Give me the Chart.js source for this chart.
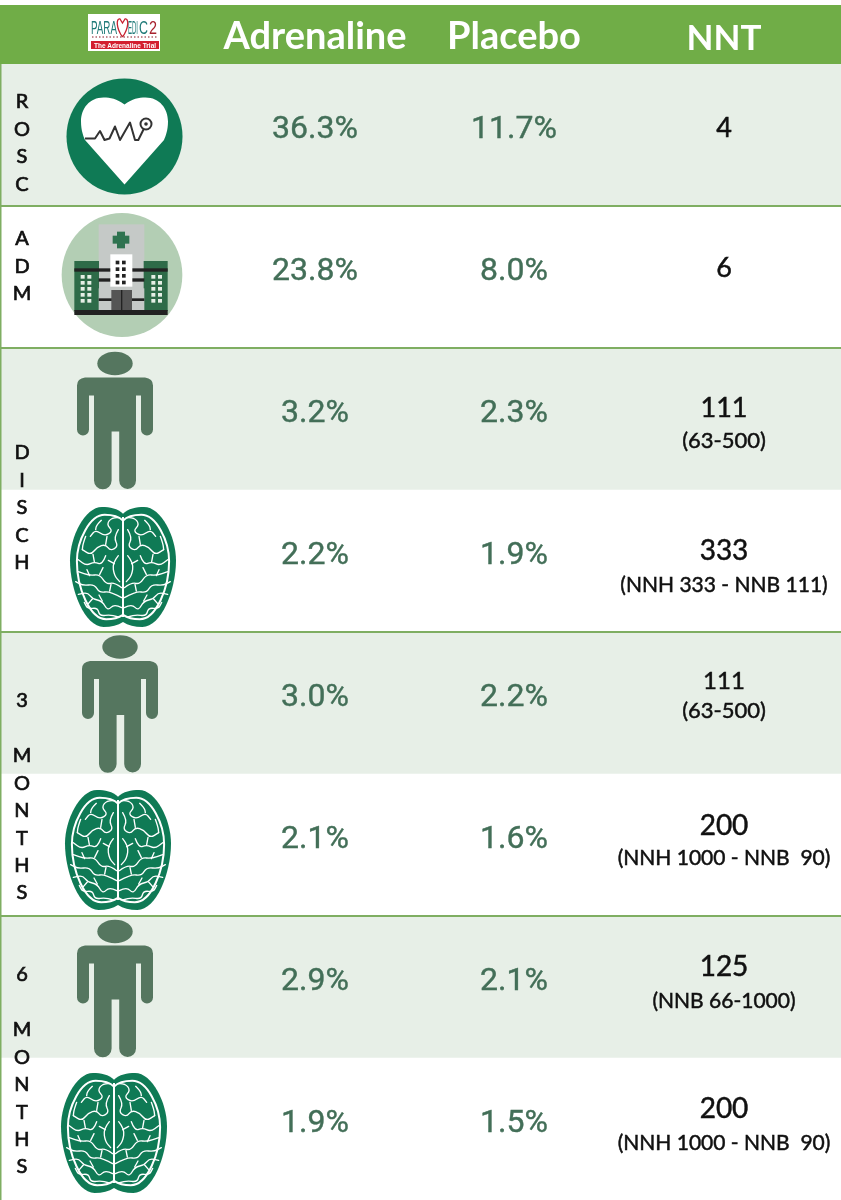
<!doctype html>
<html>
<head>
<title>PARAMEDIC2 - The Adrenaline Trial</title>
<script src="https://cdnjs.cloudflare.com/ajax/libs/Chart.js/4.4.1/chart.umd.min.js"></script>
<style>
html, body { margin: 0; padding: 0; background: #fff; }
canvas { display: block; }
</style>
</head>
<body>
<canvas id="chart" width="841" height="1200"></canvas>
<script>
// table content
var rows = ['ROSC', 'ADM', 'DISCH alive', 'DISCH neuro', '3M alive', '3M neuro', '6M alive', '6M neuro'];
var columns = ['Adrenaline', 'Placebo', 'NNT'];
var adrenaline = [36.3, 23.8, 3.2, 2.2, 3.0, 2.1, 2.9, 1.9];
var placebo = [11.7, 8.0, 2.3, 1.9, 2.2, 1.6, 2.1, 1.5];
var nnt = ['4', '6', '111', '333', '111', '200', '125', '200'];
var nntRange = ['', '', '(63-500)', '(NNH 333 - NNB 111)', '(63-500)', '(NNH 1000 - NNB  90)', '(NNB 66-1000)', '(NNH 1000 - NNB  90)'];
var sideLabels = ['ROSC', 'ADM', 'DISCH', '3', 'MONTHS', '6', 'MONTHS'];

// layout
var xMax = 841;
var columnCentres = [315, 514, 724];
var sideTops = [102, 239, 453, 701, 756, 975, 1030];
var iconKinds = ['heart', 'hospital', 'person', 'brain', 'person', 'brain', 'person', 'brain'];
var iconX = [124.5, 122, 115, 123, 120, 118, 115, 114];
var iconDy = [1.5, -2, 0, 6, -0.5, 5, 0, 4];
var lineAfter = [0, 1, 3, 5];
var nntDy = [-7, -9, -11, -10, -22, -19, -20, -20];
var rangeDy = [0, 0, 22, 24, 8, 13, 14, 14];
var nntSize = [27, 27, 27, 28, 24, 28, 28, 28];
var rangeSize = [0, 0, 22, 21, 22, 21, 21, 21];

var GREEN = '#70ad47', TINT = '#e7efe7', LINE = '#7fae62', VALUE = '#436f58',
    PERSON = '#55765f', BRAIN = '#0f7a55';

// text with a hairline stroke, the installed fonts are lighter than the picture
function heavyText(ctx, s, x, y, w) {
  ctx.fillText(s, x, y);
  ctx.lineWidth = w;
  ctx.strokeStyle = ctx.fillStyle;
  ctx.strokeText(s, x, y);
}

function drawPerson(ctx, cx, cy) {
  ctx.save();
  ctx.translate(cx, cy - 55.5);
  ctx.fillStyle = PERSON;
  ctx.beginPath();
  ctx.ellipse(0, 0, 17.7, 11.7, 0, 0, Math.PI * 2);
  ctx.fill();
  ctx.beginPath();
  ctx.moveTo(-30, 14);
  ctx.quadraticCurveTo(-38, 15, -38, 22);
  ctx.lineTo(-38, 66);
  ctx.arc(-32, 66, 6, Math.PI, 0, true);
  ctx.lineTo(-26, 32);
  ctx.lineTo(-21, 32);
  ctx.lineTo(-21, 117);
  ctx.arc(-12.2, 117, 8.8, Math.PI, 0, true);
  ctx.lineTo(-3.4, 68);
  ctx.lineTo(4.2, 68);
  ctx.lineTo(4.2, 117);
  ctx.arc(12.6, 117, 8.4, Math.PI, 0, true);
  ctx.lineTo(21, 32);
  ctx.lineTo(26, 32);
  ctx.lineTo(26, 66);
  ctx.arc(32, 66, 6, Math.PI, 0, true);
  ctx.lineTo(38, 22);
  ctx.quadraticCurveTo(38, 15, 30, 14);
  ctx.closePath();
  ctx.fill();
  ctx.restore();
}

var brainFolds = [
  [-12,-148,-32,-150,-50,-128,-30,-108,-55,-92,-82,-112,-98,-92],
  [-65,-140,-80,-125,-82,-112],
  [-14,-112,-28,-88,-14,-62,-38,-48,-52,-68,-78,-60,-96,-36,-122,-52],
  [-52,-68,-48,-92],
  [-112,-92,-120,-70,-122,-52],
  [-14,-34,-32,-12,-26,26,-10,44],
  [-26,-10,-44,-20],
  [-52,-34,-62,-6,-86,-16,-110,-4,-134,-22],
  [-86,-16,-90,-38],
  [-4,62,-26,46,-50,52,-70,22,-100,26,-134,14],
  [-70,22,-60,2],
  [-100,26,-108,8],
  [-4,92,-40,72,-70,78,-86,52,-120,56,-142,44],
  [-40,72,-36,52],
  [-4,122,-26,110,-46,132,-62,102,-92,96,-106,76,-134,82],
  [-62,102,-72,84],
  [-14,150,-36,142,-70,148,-76,122,-106,126,-116,106],
  [-92,96,-104,110]
];

function brainHalf(ctx, k) {
  ctx.moveTo(0, -160 * k);
  ctx.bezierCurveTo(-15 * k, -175 * k, -40 * k, -180 * k, -63 * k, -180 * k);
  ctx.bezierCurveTo(-115 * k, -180 * k, -159 * k, -90 * k, -159 * k, -20 * k);
  ctx.bezierCurveTo(-159 * k, 70 * k, -115 * k, 180 * k, -58 * k, 180 * k);
  ctx.bezierCurveTo(-35 * k, 180 * k, -15 * k, 175 * k, 0, 165 * k);
}

function drawBrain(ctx, cx, cy) {
  ctx.save();
  ctx.translate(cx, cy);
  ctx.scale(1 / 3, 1 / 3);
  [1, -1].forEach(function (side) {
    ctx.save();
    ctx.scale(side, 1);
    ctx.fillStyle = BRAIN;
    ctx.beginPath();
    brainHalf(ctx, 1);
    ctx.closePath();
    ctx.fill();
    ctx.strokeStyle = '#fff';
    ctx.lineWidth = 6;
    ctx.beginPath();
    brainHalf(ctx, 0.87);
    ctx.stroke();
    ctx.lineWidth = 4;
    ctx.lineJoin = 'round';
    ctx.lineCap = 'round';
    brainFolds.forEach(function (f) {
      ctx.beginPath();
      ctx.moveTo(f[0], f[1]);
      // run through the midpoints so the folds stay soft
      for (var i = 2; i < f.length - 2; i += 2) {
        ctx.quadraticCurveTo(f[i], f[i + 1], (f[i] + f[i + 2]) / 2, (f[i + 1] + f[i + 3]) / 2);
      }
      ctx.lineTo(f[f.length - 2], f[f.length - 1]);
      ctx.stroke();
    });
    ctx.restore();
  });
  ctx.strokeStyle = '#fff';
  ctx.lineWidth = 6;
  ctx.beginPath();
  ctx.moveTo(0, -150);
  ctx.lineTo(0, 150);
  ctx.stroke();
  ctx.restore();
}

function drawHeart(ctx, cx, cy) {
  ctx.save();
  ctx.translate(cx, cy);
  ctx.fillStyle = BRAIN;
  ctx.beginPath();
  ctx.arc(0, 0, 58, 0, Math.PI * 2);
  ctx.fill();
  ctx.fillStyle = '#fff';
  ctx.beginPath();
  ctx.moveTo(0, -32);
  ctx.bezierCurveTo(-8, -38, -14, -39, -21, -39);
  ctx.bezierCurveTo(-35, -39, -43.5, -28, -43.5, -15);
  ctx.bezierCurveTo(-43.5, -6, -41, 0, -39.5, 3.5);
  ctx.lineTo(0, 48);
  ctx.lineTo(39.5, 3.5);
  ctx.bezierCurveTo(41, 0, 43.5, -6, 43.5, -15);
  ctx.bezierCurveTo(43.5, -28, 35, -39, 21, -39);
  ctx.bezierCurveTo(14, -39, 8, -38, 0, -32);
  ctx.fill();
  ctx.strokeStyle = '#333';
  ctx.lineWidth = 2;
  ctx.lineJoin = 'round';
  ctx.beginPath();
  var ecg = [-39.5,2,-29.5,2,-24.5,-5.5,-20,3.5,-15,2,-9.5,-10,-4.5,3.5,5.5,-14,10.5,3.5,13.8,3.5,19.5,-8];
  ctx.moveTo(ecg[0], ecg[1]);
  for (var i = 2; i < ecg.length; i += 2) ctx.lineTo(ecg[i], ecg[i + 1]);
  ctx.stroke();
  ctx.beginPath();
  ctx.arc(21.5, -12.5, 5.5, 0, Math.PI * 2);
  ctx.stroke();
  ctx.fillStyle = '#333';
  ctx.beginPath();
  ctx.arc(21.5, -12.5, 1.8, 0, Math.PI * 2);
  ctx.fill();
  ctx.restore();
}

function drawHospital(ctx, cx, cy) {
  // sizes taken from the 3x crop, centred on the disc
  ctx.save();
  ctx.translate(cx, cy);
  ctx.scale(1 / 3, 1 / 3);
  ctx.translate(-365, -210);
  function box(c, x, y, w, h) { ctx.fillStyle = c; ctx.fillRect(x, y, w, h); }
  ctx.fillStyle = '#b3ceb4';
  ctx.beginPath();
  ctx.ellipse(365, 210, 181, 186, 0, 0, Math.PI * 2);
  ctx.fill();
  box('#c5c9c7', 295, 58, 137, 200);
  box('#2f7350', 337, 92, 50, 24);
  box('#2f7350', 350, 80, 24, 50);
  box('#2e6b48', 222, 168, 74, 150);
  box('#2e6b48', 430, 168, 72, 150);
  box('#222', 222, 190, 280, 10);
  box('#222', 295, 220, 137, 10);
  box('#fff', 330, 148, 66, 97);
  for (var r = 0; r < 4; r++) {
    box('#222', 346, 167 + r * 20, 11, 11);
    box('#222', 365, 167 + r * 20, 11, 11);
  }
  for (var w = 0; w < 5; w++) {
    [241, 261, 453, 473].forEach(function (x) { box('#e6efe6', x, 210 + w * 18, 12, 11); });
  }
  box('#c5c9c7', 295, 250, 137, 66);
  box('#222', 295, 280, 137, 8);
  box('#555', 333, 255, 62, 62);
  box('#222', 362, 255, 4, 62);
  box('#222', 222, 315, 280, 15);
  ctx.restore();
}

// squeezes a word into the given width, the logo lettering is very condensed
function narrowText(ctx, s, x, y, width) {
  ctx.save();
  ctx.translate(x, y);
  ctx.scale(width / ctx.measureText(s).width, 1);
  ctx.fillText(s, 0, 0);
  ctx.restore();
}

function drawLogo(ctx) {
  ctx.save();
  ctx.fillStyle = '#fff';
  ctx.fillRect(88, 14, 72, 37);
  ctx.textBaseline = 'alphabetic';
  ctx.textAlign = 'left';
  ctx.font = '19px "Liberation Sans"';
  ctx.fillStyle = '#1f7a78';
  narrowText(ctx, 'PARA', 91, 34, 26);
  narrowText(ctx, 'EDI', 128, 34, 10);
  narrowText(ctx, 'C', 139, 34, 9);
  ctx.fillStyle = '#a8222e';
  narrowText(ctx, '2', 149, 34, 8);
  ctx.strokeStyle = '#c8202f';
  ctx.lineWidth = 1.3;
  ctx.beginPath();
  ctx.moveTo(122.5, 37);
  ctx.bezierCurveTo(116, 28, 116, 18, 120, 19);
  ctx.lineTo(122.5, 23);
  ctx.lineTo(125, 19);
  ctx.bezierCurveTo(129, 18, 129, 28, 122.5, 37);
  ctx.stroke();
  ctx.setLineDash([1.5, 2]);
  ctx.lineWidth = 1.4;
  ctx.strokeStyle = '#b0616b';
  ctx.beginPath();
  ctx.moveTo(92, 37);
  ctx.lineTo(157, 37);
  ctx.stroke();
  ctx.setLineDash([]);
  ctx.fillStyle = '#d31f2f';
  ctx.fillRect(91, 41, 68, 8);
  ctx.fillStyle = '#fff';
  ctx.font = 'bold 6.5px "Liberation Sans"';
  ctx.textAlign = 'center';
  ctx.fillText('The Adrenaline Trial', 125, 47.5);
  ctx.restore();
}

var tablePlugin = {
  id: 'table',
  beforeDraw: function (chart) {
    var ctx = chart.ctx, area = chart.chartArea;
    ctx.save();
    ctx.fillStyle = '#fff';
    ctx.fillRect(0, 0, chart.width, chart.height);
    ctx.fillStyle = GREEN;
    ctx.fillRect(0, 5, chart.width, area.top - 5);
    ctx.restore();
  },
  afterDatasetsDraw: function (chart) {
    var ctx = chart.ctx, x = chart.scales.x, y = chart.scales.y, area = chart.chartArea;
    var rowH = (area.bottom - area.top) / rows.length;
    ctx.save();

    // separators and left border
    ctx.strokeStyle = LINE;
    ctx.lineWidth = 2;
    lineAfter.forEach(function (i) {
      var py = y.getPixelForValue(i) + rowH / 2;
      ctx.beginPath();
      ctx.moveTo(area.left, py);
      ctx.lineTo(area.right, py);
      ctx.stroke();
    });
    ctx.beginPath();
    ctx.moveTo(0.5, area.top);
    ctx.lineTo(0.5, area.bottom);
    ctx.stroke();

    // icons
    iconKinds.forEach(function (kind, i) {
      var px = x.getPixelForValue(iconX[i]), py = y.getPixelForValue(i) + iconDy[i];
      if (kind === 'heart') drawHeart(ctx, px, py);
      if (kind === 'hospital') drawHospital(ctx, px, py);
      if (kind === 'person') drawPerson(ctx, px, py);
      if (kind === 'brain') drawBrain(ctx, px, py);
    });

    // percentages and NNT
    ctx.textAlign = 'center';
    ctx.textBaseline = 'middle';
    rows.forEach(function (r, i) {
      var py = y.getPixelForValue(i);
      ctx.fillStyle = VALUE;
      ctx.font = '32px Roboto';
      heavyText(ctx, adrenaline[i].toFixed(1) + '%', x.getPixelForValue(columnCentres[0]), py - 5, 0.4);
      heavyText(ctx, placebo[i].toFixed(1) + '%', x.getPixelForValue(columnCentres[1]), py - 5, 0.4);
      ctx.fillStyle = '#111';
      ctx.font = nntSize[i] + 'px Lato';
      heavyText(ctx, nnt[i], x.getPixelForValue(columnCentres[2]), py + nntDy[i], 0.5);
      if (nntRange[i]) {
        ctx.font = rangeSize[i] + 'px Lato';
        heavyText(ctx, nntRange[i], x.getPixelForValue(columnCentres[2]), py + rangeDy[i], 0.5);
      }
    });

    // stacked side labels
    ctx.fillStyle = '#111';
    ctx.font = '20px Lato';
    sideLabels.forEach(function (label, i) {
      label.split('').forEach(function (ch, j) {
        heavyText(ctx, ch, 22, sideTops[i] + j * 27.4, 0.7);
      });
    });

    drawLogo(ctx);
    ctx.restore();
  }
};

new Chart(document.getElementById('chart').getContext('2d'), {
  type: 'bar',
  plugins: [tablePlugin],
  data: {
    labels: rows,
    datasets: [{
      data: rows.map(function () { return xMax; }),
      backgroundColor: rows.map(function (r, i) { return i % 2 ? '#ffffff' : TINT; }),
      borderWidth: 0,
      barPercentage: 1,
      categoryPercentage: 1
    }]
  },
  options: {
    indexAxis: 'y',
    responsive: false,
    animation: false,
    devicePixelRatio: 1,
    layout: { padding: 0 },
    plugins: { legend: { display: false }, tooltip: { enabled: false } },
    scales: {
      x: {
        position: 'top',
        min: 0,
        max: xMax,
        border: { display: false },
        grid: { display: false, drawTicks: false },
        afterBuildTicks: function (axis) {
          axis.ticks = columnCentres.map(function (v) { return { value: v }; });
        },
        afterFit: function (axis) { axis.height = 64; },
        ticks: {
          autoSkip: false,
          maxRotation: 0,
          padding: 4,
          color: '#fff',
          font: function (c) {
            return { family: 'Lato', weight: 'bold', size: c.index === 2 ? 35 : 38 };
          },
          callback: function (v, i) { return columns[i]; }
        }
      },
      y: { display: false }
    }
  }
});
</script>
</body>
</html>
